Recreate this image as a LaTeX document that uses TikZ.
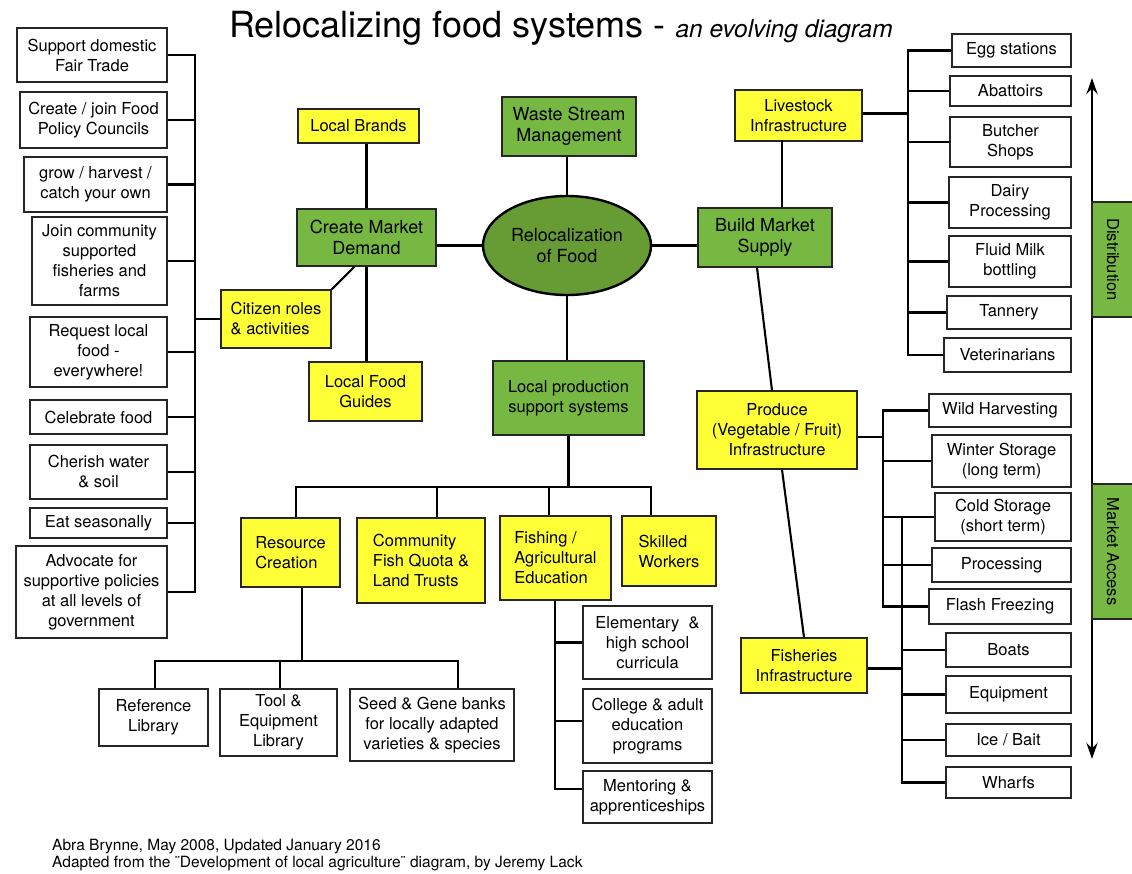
\documentclass[tikz,border=0pt]{standalone}
\usepackage{fontspec}
\setmainfont{TeX Gyre Heros}
\usetikzlibrary{arrows.meta,shapes.geometric}
\definecolor{boxyellow}{RGB}{255,255,56}
\definecolor{boxgreen}{RGB}{118,184,66}
\definecolor{hubgreen}{RGB}{103,155,52}

\begin{document}
\begin{tikzpicture}[x=1pt,y=-1pt,
    every node/.style={font=\fontsize{16.5}{20}\selectfont, inner sep=2pt},
    wbox/.style={draw=black!85, line width=1.3pt, fill=white, align=center},
    ybox/.style={wbox, fill=boxyellow},
    gbox/.style={wbox, fill=boxgreen, font=\fontsize{18}{21}\selectfont},
    link/.style={line width=2.1pt}]

    \useasboundingbox (0,0) rectangle (1132,873);

    % Title and credits
    \node[anchor=base west, inner sep=0pt] (title) at (229,37)
      {\fontsize{36}{40}\selectfont Relocalizing food systems - {\fontsize{24.5}{28}\selectfont\itshape an evolving diagram}};
    \node[anchor=base west, inner sep=0pt, font=\fontsize{15.5}{18}\selectfont] (credita) at (52,850)
      {Abra Brynne, May 2008, Updated January 2016};
    \node[anchor=base west, inner sep=0pt, font=\fontsize{15.5}{18}\selectfont] (creditb) at (52,867)
      {Adapted from the ¨Development of local agriculture¨ diagram, by Jeremy Lack};

    % Citizen column on the left
    \foreach \nm/\cx/\cy/\bw/\bh/\txt in {
      sup/92/55/150/54/{Support domestic\\Fair Trade},
      fpc/93.5/120/147/56/{Create / join Food\\Policy Councils},
      grow/95.5/184.5/143/55/{grow / harvest /\\catch your own},
      csa/99.5/261/135/88/{Join community\\supported\\fisheries and\\farms},
      req/98.5/352/137/70/{Request local\\food -\\everywhere!},
      cel/98.5/417/137/34/{Celebrate food},
      cher/98.5/472/137/54/{Cherish water\\\& soil},
      eat/98.5/523/137/30/{Eat seasonally},
      adv/91.5/592/151/92/{Advocate for\\supportive policies\\at all levels of\\government}}
    \node[wbox, minimum width=\bw, minimum height=\bh] (\nm) at (\cx,\cy) {\txt};

    % Hub and the boxes round it
    \node[ellipse, draw=black, line width=2.4pt, fill=hubgreen, minimum width=168, minimum height=99,
      align=center, font=\fontsize{18}{21}\selectfont] (hub) at (567,245.5) {Relocalization\\of Food};
    \node[gbox, minimum width=134, minimum height=59] (waste) at (569,126.5) {Waste Stream\\Management};
    \node[gbox, minimum width=139, minimum height=57] (cmd) at (366.5,237.5) {Create Market\\Demand};
    \node[gbox, minimum width=134, minimum height=59] (bms) at (765,237.5) {Build Market\\Supply};
    \node[gbox, font=\fontsize{16.5}{20}\selectfont, minimum width=151, minimum height=74] (lpss) at (568.5,398)
      {Local production\\support systems};
    \node[ybox, minimum width=121, minimum height=34] (brand) at (358.5,126) {Local Brands};
    \node[ybox, align=left, minimum width=110, minimum height=58] (cit) at (276,319) {Citizen roles\\\& activities};
    \node[ybox, minimum width=113, minimum height=59] (guide) at (365.5,391.5) {Local Food\\Guides};
    \node[ybox, minimum width=127, minimum height=51] (live) at (798.5,115.5) {Livestock\\Infrastructure};
    \node[ybox, minimum width=160, minimum height=78] (prod) at (777,430) {Produce\\(Vegetable / Fruit)\\Infrastructure};
    \node[ybox, minimum width=126, minimum height=55] (fish) at (804,665.5) {Fisheries\\Infrastructure};

    % Livestock column
    \foreach \nm/\cx/\cy/\bw/\bh/\txt in {
      egg/1011.5/50.5/119/33/{Egg stations},
      aba/1010.5/91/121/30/{Abattoirs},
      but/1010.5/142/121/50/{Butcher\\Shops},
      dairy/1010/202.5/122/51/{Dairy\\Processing},
      milk/1010/261.5/122/51/{Fluid Milk\\bottling},
      tan/1009/312.5/124/33/{Tannery},
      vet/1007.5/355/127/34/{Veterinarians}}
    \node[wbox, minimum width=\bw, minimum height=\bh] (\nm) at (\cx,\cy) {\txt};

    % Produce and fisheries column
    \foreach \nm/\cx/\cy/\bw/\bh/\txt in {
      wild/1000/410.5/142/33/{Wild Harvesting},
      wint/1001.5/461/139/52/{Winter Storage\\(long term)},
      cold/1003/517/136/48/{Cold Storage\\(short term)},
      proc/1001.5/565/139/34/{Processing},
      flash/1000/606.5/142/35/{Flash Freezing},
      boats/1008.5/650/125/34/{Boats},
      equip/1008.5/694.5/125/37/{Equipment},
      ice/1008.5/740/125/32/{Ice / Bait},
      wharf/1008.5/782.5/125/31/{Wharfs}}
    \node[wbox, minimum width=\bw, minimum height=\bh] (\nm) at (\cx,\cy) {\txt};

    % Production support row
    \foreach \nm/\cx/\cy/\bw/\bh/\txt in {
      res/290.5/552.5/99/69/{Resource\\Creation},
      comm/421/560.5/128/85/{Community\\Fish Quota \&\\Land Trusts},
      edu/555.5/558/111/84/{Fishing /\\Agricultural\\Education},
      skill/669/551/94/70/{Skilled\\Workers}}
    \node[ybox, align=left, minimum width=\bw, minimum height=\bh] (\nm) at (\cx,\cy) {\txt};

    \foreach \nm/\cx/\cy/\bw/\bh/\txt in {
      ref/153.5/717.5/109/57/{Reference\\Library},
      tool/278.5/722.5/117/67/{Tool \&\\Equipment\\Library},
      seed/432/725/164/72/{Seed \& Gene banks\\for locally adapted\\varieties \& species},
      elem/647.5/642.5/129/73/{Elementary~ \&\\high school\\curricula},
      coll/647.5/726/129/74/{College \& adult\\education\\programs},
      ment/647.5/797/129/52/{Mentoring \&\\apprenticeships}}
    \node[wbox, minimum width=\bw, minimum height=\bh] (\nm) at (\cx,\cy) {\txt};

    % Bus lines
    \coordinate (lbus) at (195,0);
    \coordinate (rbus) at (908,0);
    \coordinate (pbusa) at (883,0);
    \coordinate (pbusb) at (902,0);
    \coordinate (ebus) at (555,0);
    \coordinate (pb1) at (296,487);
    \coordinate (pb2) at (437,487);
    \coordinate (pb3) at (549,487);
    \coordinate (pb4) at (651,487);
    \coordinate (rb1) at (155,661);
    \coordinate (rb2) at (280,661);
    \coordinate (rb3) at (458,661);
    \coordinate (rdrop) at (302,661);

    % Links round the hub
    \draw[link] (hub.west) -- (hub.west -| cmd.east);
    \draw[link] (hub.east) -- (hub.east -| bms.west);
    \draw[link] (hub.north) -- (hub.north |- waste.south);
    \draw[link] (hub.south) -- (hub.south |- lpss.north);
    \draw[link] (cmd.north) -- (cmd.north |- brand.south);
    \draw[link] (cmd.south) -- (cmd.south |- guide.north);
    \draw[link] ([xshift=-12]cmd.south) -- (cit.north east);
    \draw[link] ([xshift=17]bms.north) -- ++(0,-67);
    \draw[link] ([xshift=-8]bms.south) -- ([xshift=-5]prod.north);
    \draw[link] ([xshift=5]prod.south) -- (fish.north);

    % Citizen column
    \draw[link] (sup.east) -| (lbus |- adv.east) -- (adv.east);
    \foreach \nm in {fpc,grow,csa,req,cel,cher,eat}
      \draw[link] (\nm.east) -- (\nm.east -| lbus);
    \draw[link] (cit.west) -- (cit.west -| lbus);

    % Livestock column
    \draw[link] (egg.west) -| (rbus |- vet.west) -- (vet.west);
    \foreach \nm in {aba,but,dairy,milk,tan}
      \draw[link] (\nm.west) -- (\nm.west -| rbus);
    \draw[link] ([yshift=2]live.east) -- ++(46,0);

    % Produce and fisheries column
    \draw[link] (wild.west) -| (pbusa |- flash.west) -- (flash.west);
    \foreach \nm in {wint,cold,proc}
      \draw[link] (\nm.west) -- (\nm.west -| pbusa);
    \draw[link] ([yshift=-7]prod.east) -- ++(26,0);
    \draw[link] (cold.west -| pbusb) |- (wharf.west);
    \foreach \nm in {boats,equip,ice}
      \draw[link] (\nm.west) -- (\nm.west -| pbusb);
    \draw[link] ([yshift=-3]fish.east) -- ++(35,0);

    % Production support row
    \draw[link] (lpss.south) -- (lpss.south |- pb1);
    \draw[link] (res.north -| pb1) -- (pb1) -- (pb4) -- (skill.north -| pb4);
    \draw[link] (comm.north -| pb2) -- (pb2);
    \draw[link] (edu.north -| pb3) -- (pb3);
    \draw[link] (res.south -| rdrop) -- (rdrop);
    \draw[link] (ref.north -| rb1) -- (rb1) -- (rb3) -- (seed.north -| rb3);
    \draw[link] (tool.north -| rb2) -- (rb2);
    \draw[link] (edu.south -| ebus) |- ([yshift=8]ment.west);
    \draw[link] (elem.west) -- (elem.west -| ebus);
    \draw[link] ([yshift=5]coll.west) -- ++(-28,0);

    % Distribution / market access arrow
    \coordinate (atop) at (1092,78);
    \coordinate (abot) at (1092,759);
    \draw[line width=2.4pt, {Stealth[length=16pt,width=11pt]}-{Stealth[length=16pt,width=11pt]}] (atop) -- (abot);
    \node[gbox, font=\fontsize{16.5}{20}\selectfont, rotate=-90, minimum width=115, minimum height=42] (dist)
      at (1113,259.5) {Distribution};
    \node[gbox, font=\fontsize{16.5}{20}\selectfont, rotate=-90, minimum width=135, minimum height=42] (mkt)
      at (1113,551.5) {Market Access};

\end{tikzpicture}
\end{document}
